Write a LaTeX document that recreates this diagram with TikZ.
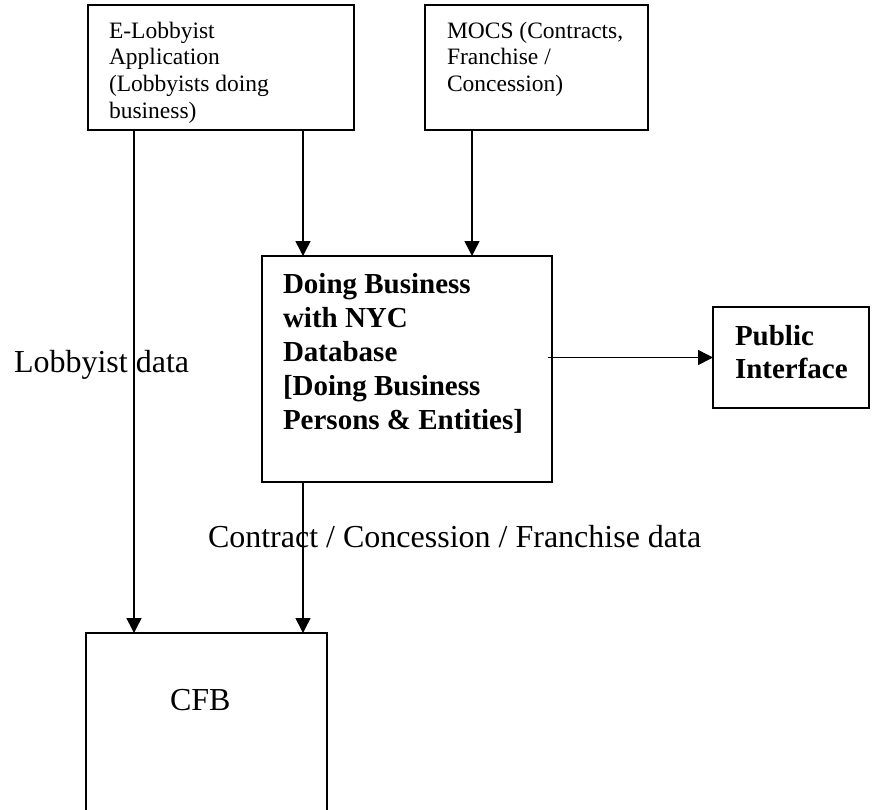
\documentclass[tikz,border=0pt]{standalone}
\usepackage{fontspec}
\setmainfont{Liberation Serif}
\usetikzlibrary{arrows.meta}
\tikzset{
  box/.style={draw, line width=1.6pt, inner sep=0pt, outer sep=0pt},
  arr/.style={line width=1.5pt, -{Triangle[length=15pt,width=15pt]}},
  txt/.style={anchor=base west, inner sep=0pt, outer sep=0pt},
}
\newcommand{\smalltxt}{\fontsize{23.5}{26.7}\selectfont}
\newcommand{\boldtxt}{\fontsize{29}{34}\selectfont\bfseries}
\newcommand{\bigtxt}{\fontsize{32}{36}\selectfont}
\begin{document}
\begin{tikzpicture}[x=1pt,y=-1pt]
\useasboundingbox (0,0) rectangle (872,809);
\clip (0,0) rectangle (872,809);
% boxes
\node[box, minimum width=266pt, minimum height=125pt] (lob) at (221,67.5) {};
\node[box, minimum width=223pt, minimum height=125pt] (mocs) at (536.5,67.5) {};
\node[box, minimum width=290pt, minimum height=226pt] (db) at (407,369) {};
\node[box, minimum width=156pt, minimum height=101pt] (pub) at (791,357.5) {};
\node[box, minimum width=241pt, minimum height=182pt] (cfb) at (206.5,724) {};
% box texts
\node[txt] (lobt) at (109,38) {\parbox[t]{240pt}{\raggedright\smalltxt E-Lobbyist\\Application\\(Lobbyists doing\\business)}};
\node[txt] (mocst) at (447,38) {\parbox[t]{200pt}{\raggedright\smalltxt MOCS (Contracts,\\Franchise /\\Concession)}};
\node[txt] (dbt) at (283,293.3) {\parbox[t]{265pt}{\raggedright\boldtxt Doing Business\\with NYC\\Database\\{[}Doing Business\\Persons \& Entities]}};
\node[txt] (pubt) at (735,345) {\parbox[t]{130pt}{\raggedright\fontsize{29}{33}\selectfont\bfseries Public\\Interface}};
\node[txt] (cfbt) at (170,710) {\bigtxt CFB};
% connector x positions
\coordinate (xa) at (134,0);
\coordinate (xb) at (303,0);
\coordinate (xc) at (472,0);
% connectors
\draw[arr] (lob.south -| xa) -- (cfb.north -| xa);
\draw[arr] (lob.south -| xb) -- (db.north -| xb);
\draw[arr] (mocs.south -| xc) -- (db.north -| xc);
\draw[arr] (db.south -| xb) -- (cfb.north -| xb);
\draw[arr] ([xshift=-4pt]db.east |- pub.west) -- (pub.west);
% labels
\node[txt] (lbl1) at (14,372) {\bigtxt Lobbyist data};
\node[txt] (lbl2) at (208,547) {\bigtxt Contract / Concession / Franchise data};
\end{tikzpicture}
\end{document}
